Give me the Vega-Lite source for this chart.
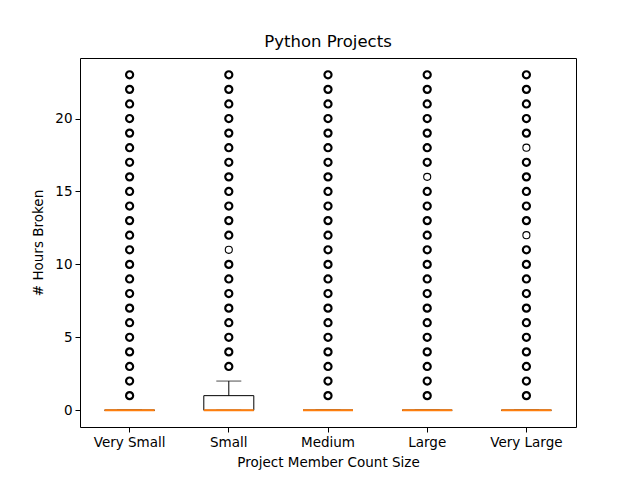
{
  "$schema": "https://vega.github.io/schema/vega-lite/v6.json",
  "autosize": "none",
  "padding": {"left": 80, "top": 58, "right": 64, "bottom": 53},
  "width": 496,
  "height": 369,
  "background": "white",
  "config": {
    "font": "DejaVu Sans",
    "view": {"stroke": "black", "strokeWidth": 1},
    "axis": {"grid": false, "domain": false, "tickColor": "black", "tickSize": 5, "labelColor": "black", "titleColor": "black", "labelFontSize": 13.5, "titleFontSize": 13.5, "titleFontWeight": "normal", "labelPadding": 3},
    "title": {"fontSize": 16.5, "fontWeight": "normal", "color": "black", "offset": 8}
  },
  "title": {"text": "Python Projects"},
  "datasets": {
    "boxes": [
      {"size": "Very Small", "q1": 0, "q3": 0, "median": 0, "wlo": 0, "whi": 0},
      {"size": "Small", "q1": 0, "q3": 1, "median": 0, "wlo": 0, "whi": 2},
      {"size": "Medium", "q1": 0, "q3": 0, "median": 0, "wlo": 0, "whi": 0},
      {"size": "Large", "q1": 0, "q3": 0, "median": 0, "wlo": 0, "whi": 0},
      {"size": "Very Large", "q1": 0, "q3": 0, "median": 0, "wlo": 0, "whi": 0}
    ],
    "fliers": [
      {"size":"Very Small","hours":1,"count":10},{"size":"Very Small","hours":2,"count":10},{"size":"Very Small","hours":3,"count":10},{"size":"Very Small","hours":4,"count":10},{"size":"Very Small","hours":5,"count":10},{"size":"Very Small","hours":6,"count":10},{"size":"Very Small","hours":7,"count":10},{"size":"Very Small","hours":8,"count":10},{"size":"Very Small","hours":9,"count":10},{"size":"Very Small","hours":10,"count":10},{"size":"Very Small","hours":11,"count":10},{"size":"Very Small","hours":12,"count":10},{"size":"Very Small","hours":13,"count":10},{"size":"Very Small","hours":14,"count":10},{"size":"Very Small","hours":15,"count":10},{"size":"Very Small","hours":16,"count":10},{"size":"Very Small","hours":17,"count":10},{"size":"Very Small","hours":18,"count":10},{"size":"Very Small","hours":19,"count":10},{"size":"Very Small","hours":20,"count":10},{"size":"Very Small","hours":21,"count":10},{"size":"Very Small","hours":22,"count":10},{"size":"Very Small","hours":23,"count":10},
      {"size":"Small","hours":3,"count":10},{"size":"Small","hours":4,"count":10},{"size":"Small","hours":5,"count":10},{"size":"Small","hours":6,"count":10},{"size":"Small","hours":7,"count":10},{"size":"Small","hours":8,"count":10},{"size":"Small","hours":9,"count":10},{"size":"Small","hours":10,"count":10},{"size":"Small","hours":11,"count":1},{"size":"Small","hours":12,"count":10},{"size":"Small","hours":13,"count":10},{"size":"Small","hours":14,"count":10},{"size":"Small","hours":15,"count":10},{"size":"Small","hours":16,"count":10},{"size":"Small","hours":17,"count":10},{"size":"Small","hours":18,"count":10},{"size":"Small","hours":19,"count":10},{"size":"Small","hours":20,"count":10},{"size":"Small","hours":21,"count":10},{"size":"Small","hours":22,"count":10},{"size":"Small","hours":23,"count":10},
      {"size":"Medium","hours":1,"count":10},{"size":"Medium","hours":2,"count":10},{"size":"Medium","hours":3,"count":10},{"size":"Medium","hours":4,"count":10},{"size":"Medium","hours":5,"count":10},{"size":"Medium","hours":6,"count":10},{"size":"Medium","hours":7,"count":10},{"size":"Medium","hours":8,"count":10},{"size":"Medium","hours":9,"count":10},{"size":"Medium","hours":10,"count":10},{"size":"Medium","hours":11,"count":10},{"size":"Medium","hours":12,"count":10},{"size":"Medium","hours":13,"count":10},{"size":"Medium","hours":14,"count":10},{"size":"Medium","hours":15,"count":10},{"size":"Medium","hours":16,"count":10},{"size":"Medium","hours":17,"count":10},{"size":"Medium","hours":18,"count":10},{"size":"Medium","hours":19,"count":10},{"size":"Medium","hours":20,"count":10},{"size":"Medium","hours":21,"count":10},{"size":"Medium","hours":22,"count":10},{"size":"Medium","hours":23,"count":10},
      {"size":"Large","hours":1,"count":10},{"size":"Large","hours":2,"count":10},{"size":"Large","hours":3,"count":10},{"size":"Large","hours":4,"count":10},{"size":"Large","hours":5,"count":10},{"size":"Large","hours":6,"count":10},{"size":"Large","hours":7,"count":10},{"size":"Large","hours":8,"count":10},{"size":"Large","hours":9,"count":10},{"size":"Large","hours":10,"count":10},{"size":"Large","hours":11,"count":10},{"size":"Large","hours":12,"count":10},{"size":"Large","hours":13,"count":10},{"size":"Large","hours":14,"count":10},{"size":"Large","hours":15,"count":10},{"size":"Large","hours":16,"count":1},{"size":"Large","hours":17,"count":10},{"size":"Large","hours":18,"count":10},{"size":"Large","hours":19,"count":10},{"size":"Large","hours":20,"count":10},{"size":"Large","hours":21,"count":10},{"size":"Large","hours":22,"count":10},{"size":"Large","hours":23,"count":10},
      {"size":"Very Large","hours":1,"count":10},{"size":"Very Large","hours":2,"count":10},{"size":"Very Large","hours":3,"count":10},{"size":"Very Large","hours":4,"count":10},{"size":"Very Large","hours":5,"count":10},{"size":"Very Large","hours":6,"count":10},{"size":"Very Large","hours":7,"count":10},{"size":"Very Large","hours":8,"count":10},{"size":"Very Large","hours":9,"count":10},{"size":"Very Large","hours":10,"count":10},{"size":"Very Large","hours":11,"count":10},{"size":"Very Large","hours":12,"count":1},{"size":"Very Large","hours":13,"count":10},{"size":"Very Large","hours":14,"count":10},{"size":"Very Large","hours":15,"count":10},{"size":"Very Large","hours":16,"count":10},{"size":"Very Large","hours":17,"count":10},{"size":"Very Large","hours":18,"count":1},{"size":"Very Large","hours":19,"count":10},{"size":"Very Large","hours":20,"count":10},{"size":"Very Large","hours":21,"count":10},{"size":"Very Large","hours":22,"count":10},{"size":"Very Large","hours":23,"count":10}
    ]
  },
  "encoding": {
    "x": {
      "field": "size", "type": "nominal",
      "sort": ["Very Small", "Small", "Medium", "Large", "Very Large"],
      "scale": {"paddingInner": 0, "paddingOuter": 0},
      "axis": {"title": "Project Member Count Size", "labelAngle": 0, "titlePadding": 7}
    }
  },
  "layer": [
    {
      "data": {"name": "boxes"},
      "mark": {"type": "rule", "color": "black", "strokeWidth": 1},
      "encoding": {
        "y": {"field": "q3", "type": "quantitative", "scale": {"domain": [-1.15, 24.15], "nice": false, "zero": false}, "axis": {"title": "# Hours Broken", "values": [0, 5, 10, 15, 20], "titlePadding": 9}},
        "y2": {"field": "whi"}
      }
    },
    {
      "data": {"name": "boxes"},
      "mark": {"type": "rule", "color": "black", "strokeWidth": 1},
      "encoding": {
        "y": {"field": "wlo", "type": "quantitative"},
        "y2": {"field": "q1"}
      }
    },
    {
      "data": {"name": "boxes"},
      "mark": {"type": "tick", "color": "black", "size": 25, "thickness": 1, "orient": "horizontal"},
      "encoding": {"y": {"field": "whi", "type": "quantitative"}}
    },
    {
      "data": {"name": "boxes"},
      "mark": {"type": "tick", "color": "black", "size": 25, "thickness": 1, "orient": "horizontal"},
      "encoding": {"y": {"field": "wlo", "type": "quantitative"}}
    },
    {
      "data": {"name": "boxes"},
      "mark": {"type": "bar", "size": 50, "fill": null, "fillOpacity": 0, "stroke": "black", "strokeWidth": 1},
      "encoding": {
        "y": {"field": "q1", "type": "quantitative"},
        "y2": {"field": "q3"}
      }
    },
    {
      "data": {"name": "boxes"},
      "mark": {"type": "tick", "color": "#ff7f0e", "opacity": 1, "size": 50, "thickness": 2, "orient": "horizontal"},
      "encoding": {"y": {"field": "median", "type": "quantitative"}}
    },
    {
      "data": {"name": "fliers"},
      "mark": {"type": "point", "shape": "circle", "filled": false, "color": "black", "size": 50, "opacity": 1},
      "encoding": {
        "y": {"field": "hours", "type": "quantitative"},
        "strokeWidth": {"field": "count", "type": "quantitative", "scale": {"type": "threshold", "domain": [2], "range": [1.1, 2.2]}, "legend": null}
      }
    }
  ]
}
